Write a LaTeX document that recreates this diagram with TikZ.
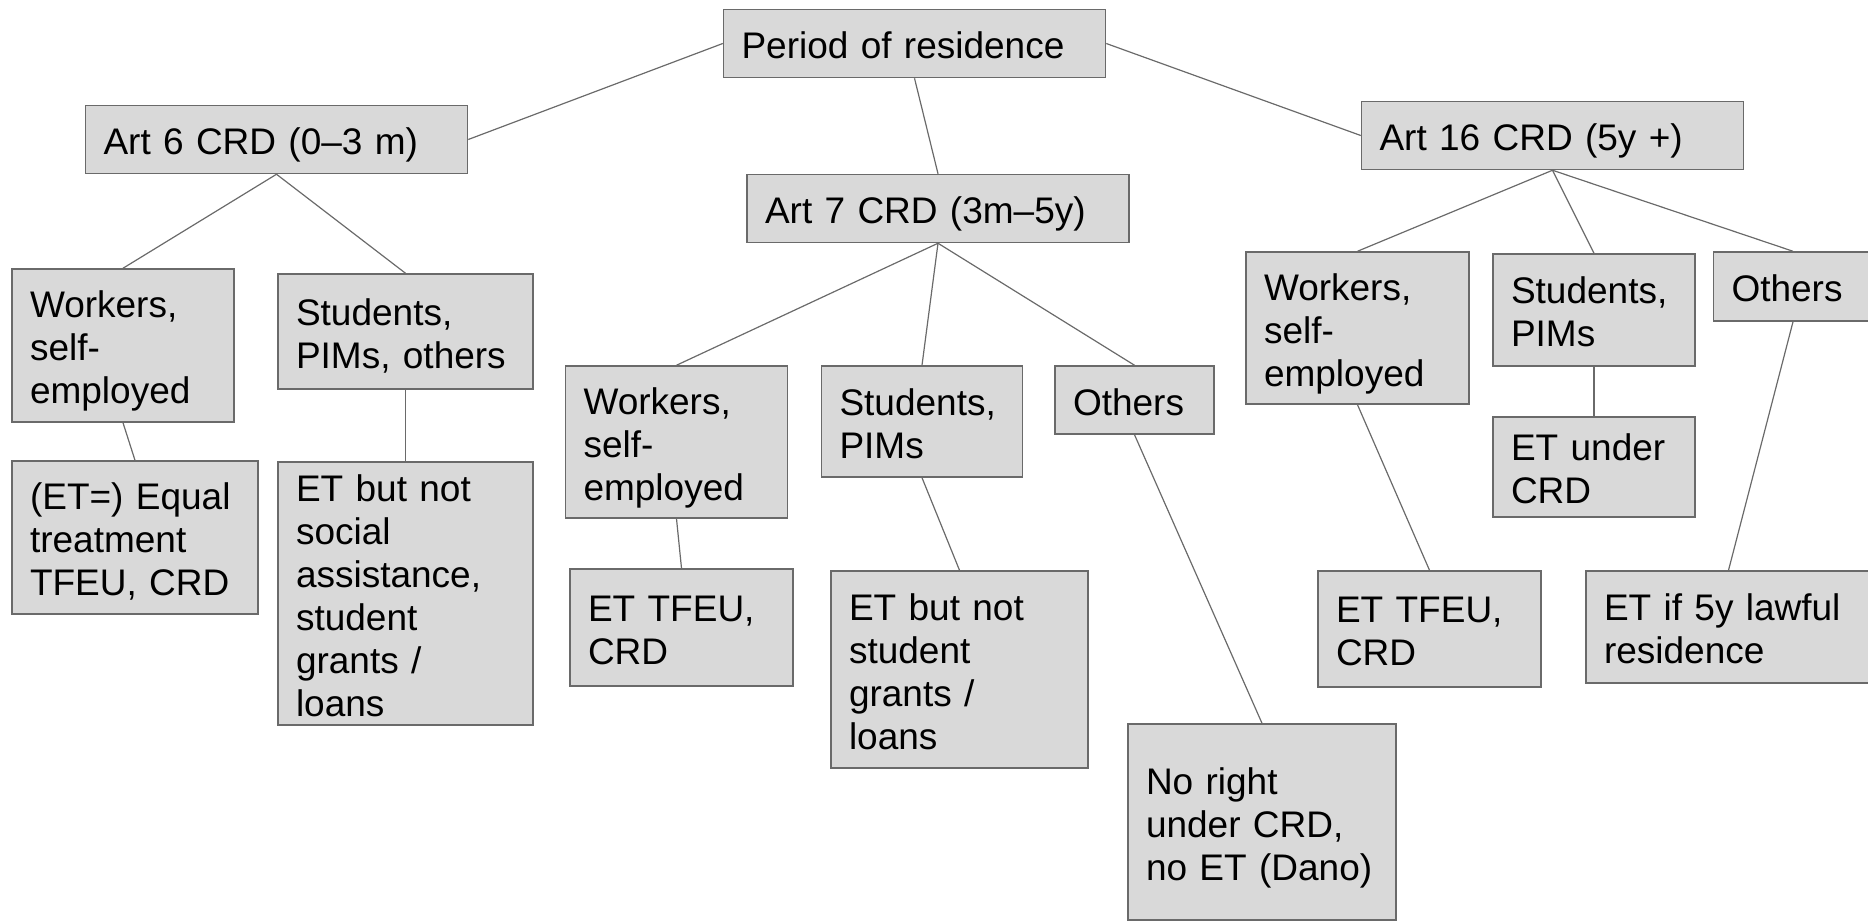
\documentclass[tikz,border=0pt]{standalone}
\usepackage{fontspec}
\setmainfont{Liberation Sans}
\definecolor{boxgray}{HTML}{D9D9D9}
\definecolor{rulegray}{HTML}{6A6A6A}
\tikzset{every picture/.style={font=\fontsize{18.5}{21.5}\selectfont}}
\tikzset{
	box/.style 2 args={draw=rulegray, fill=boxgray, line width=0.75pt, align=left,
		inner xsep=9pt, inner ysep=0pt, text width=#1pt, minimum height=#2pt,
		execute at begin node={\rule{0pt}{19.5pt}},
		execute at end node={\rule[-4.5pt]{0pt}{0pt}}},
	link/.style={draw=rulegray, line width=0.6pt}
}

\begin{document}
\begin{tikzpicture}[x=0.5pt, y=-0.5pt]
		\useasboundingbox (0,0) rectangle (1868,921);

		\node[box={173}{34}] (period) at (914.5,43.5) {Period of residence};
		\node[box={173}{34}] (art6) at (276.5,139.5) {Art 6 CRD (0--3 m)};
		\node[box={173}{34}] (art7) at (938,208.5) {Art 7 CRD (3m--5y)};
		\node[box={173}{34}] (art16) at (1552.5,135.5) {Art 16 CRD (5y +)};

		\node[box={93}{76.5}] (work6) at (123,345.5) {Workers,\\self-\\employed};
		\node[box={109.5}{57.5}] (stud6) at (405.5,331.5) {Students,\\PIMs, others};
		\node[box={105}{76.5}] (equal6) at (135,537.5) {(ET=) Equal\\treatment\\TFEU, CRD};
		\node[box={109.5}{131.5}] (social6) at (405.5,593.5) {ET but not\\social\\assistance,\\student\\grants /\\loans};

		\node[box={93}{76}] (work7) at (676.5,442) {Workers,\\self-\\employed};
		\node[box={82.5}{55.5}] (stud7) at (922,421.5) {Students,\\PIMs};
		\node[box={61.5}{34}] (oth7) at (1134.5,400) {Others};
		\node[box={93.5}{58.5}] (tfeu7) at (681.5,627.5) {ET TFEU,\\CRD};
		\node[box={110.5}{98.5}] (grant7) at (959.5,669.5) {ET but not\\student\\grants /\\loans};
		\node[box={116}{98}] (noright) at (1262,822) {No right\\under CRD,\\no ET (Dano)};

		\node[box={93.5}{76}] (work16) at (1357.5,328) {Workers,\\self-\\employed};
		\node[box={83}{56}] (stud16) at (1594,310) {Students,\\PIMs};
		\node[box={61.5}{34.5}] (oth16) at (1793,286.5) {Others};
		\node[box={83}{50}] (under16) at (1594,467) {ET under\\CRD};
		\node[box={93.5}{58}] (tfeu16) at (1429.5,629) {ET TFEU,\\CRD};
		\node[box={124.5}{56}] (lawful16) at (1728.5,627) {ET if 5y lawful\\residence};

		\draw[link] (period.west) -- (art6.east);
		\draw[link] (period.south) -- (art7.north);
		\draw[link] (period.east) -- (art16.west);

		\draw[link] (art6.south) -- (work6.north);
		\draw[link] (art6.south) -- (stud6.north);
		\draw[link] (work6.south) -- (equal6.north);
		\draw[link] (stud6.south) -- (social6.north);

		\draw[link] (art7.south) -- (work7.north);
		\draw[link] (art7.south) -- (stud7.north);
		\draw[link] (art7.south) -- (oth7.north);
		\draw[link] (work7.south) -- (tfeu7.north);
		\draw[link] (stud7.south) -- (grant7.north);
		\draw[link] (oth7.south) -- (noright.north);

		\draw[link] (art16.south) -- (work16.north);
		\draw[link] (art16.south) -- (stud16.north);
		\draw[link] (art16.south) -- (oth16.north);
		\draw[link] (work16.south) -- (tfeu16.north);
		\draw[link] (stud16.south) -- (under16.north);
		\draw[link] (oth16.south) -- (lawful16.north);
	\end{tikzpicture}
\end{document}
